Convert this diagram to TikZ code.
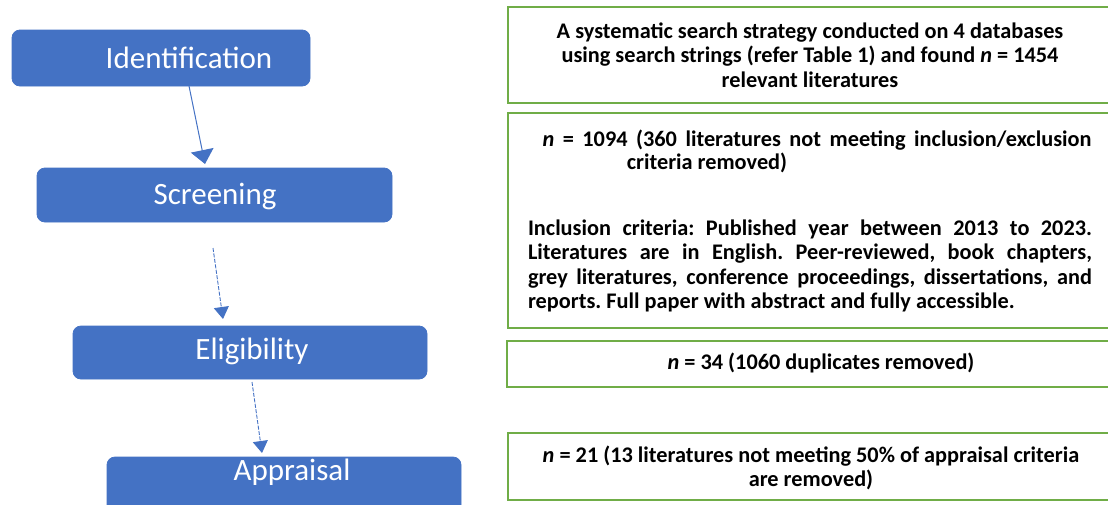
\documentclass[tikz,border=0pt]{standalone}
\usepackage{fontspec}
\setmainfont{Carlito}
\usetikzlibrary{arrows.meta}

\definecolor{stageblue}{HTML}{4472C4}
\definecolor{notegreen}{HTML}{70AD47}
\frenchspacing

\begin{document}
\begin{tikzpicture}[x=1pt, y=-1pt,
  stage/.style={draw=stageblue, fill=stageblue, rounded corners=8pt, line width=0.8pt},
  stagetext/.style={text=white, font=\fontsize{31}{34}\selectfont, inner sep=0pt},
  note/.style={draw=notegreen, line width=1.6pt},
  notetext/.style={font=\fontsize{22.3}{24.5}\selectfont\bfseries, inner sep=0pt, align=center},
  flow/.style={stageblue, line width=1pt, -{Triangle[width=23pt,length=14pt]}},
  flowdash/.style={stageblue, line width=0.9pt, dash pattern=on 4pt off 1.5pt,
    -{Triangle[width=15pt,length=12pt]}}]

\useasboundingbox (0,0) rectangle (1108,504);
\clip (0,0) rectangle (1108,504);

% stages
\node[stage, minimum width=298pt, minimum height=56pt] (ident) at (161,58) {};
\node[stage, minimum width=355pt, minimum height=54pt] (screen) at (214.5,195) {};
\node[stage, minimum width=354pt, minimum height=53pt] (elig) at (250,352.5) {};
\node[stage, minimum width=354pt, minimum height=70pt] (appr) at (284,492) {};

\node[stagetext] (identtext) at (189,58) {Identification};
\node[stagetext] (screentext) at (215,196) {Screening};
\node[stagetext] (eligtext) at (252,351) {Eligibility};
\node[stagetext] (apprtext) at (292,472) {Appraisal};

% arrows
\coordinate (a1) at (189,86);
\coordinate (b1) at (205,164);
\coordinate (a2) at (213,248);
\coordinate (b2) at (223,319);
\coordinate (a3) at (252,382);
\coordinate (b3) at (262,453);

\draw[flow] (a1) -- (b1);
\draw[flowdash] (a2) -- (b2);
\draw[flowdash] (a3) -- (b3);

% notes
\draw[note] (508,7) rectangle (1125,103);
\draw[note] (508,113) rectangle (1125,328);
\draw[note] (507,341) rectangle (1125,387);
\draw[note] (508,433) rectangle (1125,500);

\node[notetext] (noteA) at (810,55)
  {A systematic search strategy conducted on 4 databases\\
   using search strings (refer Table 1) and found \textit{n} = 1454\\
   relevant literatures};
\node[notetext] (noteB) at (817,140)
  {\makebox[549pt][s]{\textit{n} = 1094 (360 literatures not meeting inclusion/exclusion}};
\node[notetext] (noteBb) at (707,163) {criteria removed)};
\node[notetext, text width=564pt, align=justify] (criteria) at (810,266)
  {Inclusion criteria: Published year between 2013 to 2023.\linebreak
   Literatures are in English. Peer-reviewed, book chapters,\linebreak
   grey literatures, conference proceedings, dissertations, and\linebreak
   reports. Full paper with abstract and fully accessible.};
\node[notetext] (noteC) at (821,363) {\textit{n} = 34 (1060 duplicates removed)};
\node[notetext, align=center] (noteD) at (811,468)
  {\textit{n} = 21 (13 literatures not meeting 50\% of appraisal criteria\\
   are removed)};

\end{tikzpicture}
\end{document}
